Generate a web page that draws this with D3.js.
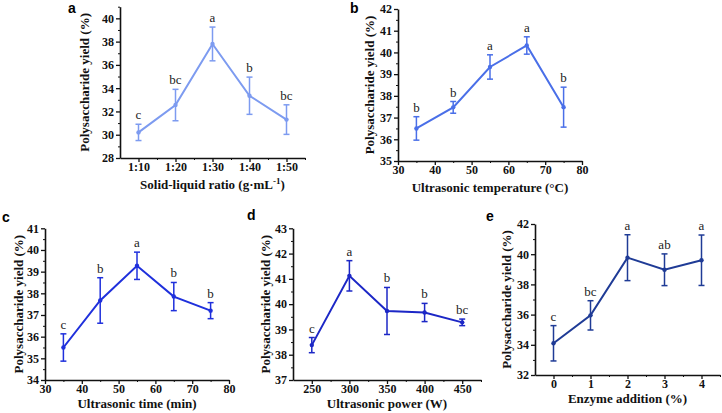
<!DOCTYPE html>
<html><head><meta charset="utf-8">
<script src="https://cdn.jsdelivr.net/npm/d3@7"></script>
<style>
html,body{margin:0;padding:0;background:#fff;}
svg{display:block;}
</style></head>
<body>
<svg id="chart" width="722" height="413"></svg>
<script>
// ---- Data ----
const ratioCats = ["1:10", "1:20", "1:30", "1:40", "1:50"];
const ratioYield = [30.2, 32.55, 37.8, 33.35, 31.3];
const ratioErr = [0.7, 1.35, 1.45, 1.6, 1.27];
const ratioLetters = ["c", "bc", "a", "b", "bc"];

const tempX = [35, 45, 55, 65, 75];
const tempYield = [36.5, 37.47, 39.33, 40.32, 37.48];
const tempErr = [0.54, 0.27, 0.56, 0.4, 0.92];
const tempLetters = ["b", "b", "a", "a", "b"];

const timeX = [35, 45, 55, 65, 75];
const timeYield = [35.5, 37.67, 39.27, 37.85, 37.2];
const timeErr = [0.63, 1.05, 0.63, 0.65, 0.37];
const timeLetters = ["c", "b", "a", "b", "b"];

const powerX = [250, 300, 350, 400, 450];
const powerYield = [38.38, 41.12, 39.73, 39.67, 39.28];
const powerErr = [0.3, 0.6, 0.93, 0.36, 0.13];
const powerLetters = ["c", "a", "b", "b", "bc"];

const enzymeX = [0, 1, 2, 3, 4];
const enzymeYield = [34.1, 35.95, 39.77, 38.97, 39.6];
const enzymeErr = [1.17, 0.97, 1.52, 1.05, 1.67];
const enzymeLetters = ["c", "bc", "a", "ab", "a"];

const yTitle = "Polysaccharide yield (%)";

const svg = d3.select("#chart");
const serif = '"Liberation Serif", "Times New Roman", serif';
const sans = '"Liberation Sans", Arial, sans-serif';

function panel(cfg) {
  const g = svg.append("g");
  const x = d3.scaleLinear().domain(cfg.xDomain).range([cfg.left, cfg.right]);
  const y = d3.scaleLinear().domain(cfg.yDomain).range([cfg.bottom, cfg.top]);

  // minor ticks
  g.append("g").attr("transform", `translate(0,${cfg.bottom})`)
    .call(d3.axisBottom(x).tickValues(cfg.xMinor).tickSize(2).tickSizeOuter(0).tickFormat(""))
    .call(s => s.select(".domain").remove())
    .call(s => s.selectAll("text").remove())
    .selectAll("line").attr("stroke", "#111").attr("stroke-width", 1);
  g.append("g").attr("transform", `translate(${cfg.left},0)`)
    .call(d3.axisLeft(y).tickValues(cfg.yMinor).tickSize(2).tickSizeOuter(0).tickFormat(""))
    .call(s => s.select(".domain").remove())
    .call(s => s.selectAll("text").remove())
    .selectAll("line").attr("stroke", "#111").attr("stroke-width", 1);

  // major axes
  const xa = g.append("g").attr("transform", `translate(0,${cfg.bottom})`)
    .call(d3.axisBottom(x).tickValues(cfg.xTicks).tickSize(4).tickSizeOuter(0).tickPadding(0)
      .tickFormat(cfg.xFormat || d3.format("d")));
  const ya = g.append("g").attr("transform", `translate(${cfg.left},0)`)
    .call(d3.axisLeft(y).tickValues(cfg.yTicks).tickSize(4).tickSizeOuter(0).tickPadding(2)
      .tickFormat(d3.format("d")));
  [xa, ya].forEach(a => {
    a.attr("font-family", null).attr("font-size", null);
    a.select(".domain").attr("stroke", "#111").attr("stroke-width", 1.6);
    a.selectAll(".tick line").attr("stroke", "#111").attr("stroke-width", 1.3);
    a.selectAll(".tick text")
      .style("font-family", serif).style("font-weight", "bold").style("font-size", "12px")
      .attr("fill", "#111");
  });

  const pts = cfg.xs.map((xv, i) => ({x: xv, y: cfg.ys[i], e: cfg.errs[i], l: cfg.letters[i]}));

  // line
  g.append("path").datum(pts)
    .attr("fill", "none").attr("stroke", cfg.color).attr("stroke-width", 2)
    .attr("d", d3.line().x(d => x(d.x)).y(d => y(d.y)));

  // error bars
  const eb = g.selectAll(".eb").data(pts).enter().append("g")
    .attr("stroke", cfg.color).attr("stroke-width", 1.5);
  eb.append("line").attr("x1", d => x(d.x)).attr("x2", d => x(d.x))
    .attr("y1", d => y(d.y - d.e)).attr("y2", d => y(d.y + d.e));
  eb.append("line").attr("x1", d => x(d.x) - 3).attr("x2", d => x(d.x) + 3)
    .attr("y1", d => y(d.y + d.e)).attr("y2", d => y(d.y + d.e));
  eb.append("line").attr("x1", d => x(d.x) - 3).attr("x2", d => x(d.x) + 3)
    .attr("y1", d => y(d.y - d.e)).attr("y2", d => y(d.y - d.e));

  // points
  g.selectAll(".pt").data(pts).enter().append("circle")
    .attr("cx", d => x(d.x)).attr("cy", d => y(d.y)).attr("r", 2.2).attr("fill", cfg.color);

  // letters
  g.selectAll(".lt").data(pts).enter().append("text")
    .attr("x", d => x(d.x)).attr("y", d => y(d.y + d.e) - 5)
    .attr("text-anchor", "middle").style("font-family", serif).style("font-size", "13px")
    .attr("fill", "#222").text(d => d.l);

  // y title
  const cy = (cfg.top + cfg.bottom) / 2;
  g.append("text").attr("transform", `translate(${cfg.yTitleX},${cy}) rotate(-90)`)
    .attr("text-anchor", "middle").attr("dy", "0.35em")
    .style("font-family", serif).style("font-weight", "bold").style("font-size", "13px")
    .attr("fill", "#111").text(yTitle);

  // x title
  const xt = g.append("text").attr("x", (cfg.left + cfg.right) / 2).attr("y", cfg.xTitleY)
    .attr("text-anchor", "middle").style("font-family", serif).style("font-weight", "bold")
    .style("font-size", "13px").attr("fill", "#111");
  if (cfg.xTitleSup) {
    xt.append("tspan").text(cfg.xTitle);
    xt.append("tspan").attr("dy", -5).style("font-size", "9px").text(cfg.xTitleSup);
    xt.append("tspan").attr("dy", 5).text(")");
  } else {
    xt.text(cfg.xTitle);
  }

  // panel label
  g.append("text").attr("x", cfg.labX).attr("y", cfg.labY)
    .style("font-family", sans).style("font-weight", "bold").style("font-size", "14px")
    .attr("fill", "#000").text(cfg.label);
}

panel({
  label: "a", labX: 68, labY: 13,
  left: 120, right: 305, top: 6.7, bottom: 158,
  xDomain: [0.5, 5.5], yDomain: [28, 41],
  xTicks: [1, 2, 3, 4, 5], xMinor: [1.5, 2.5, 3.5, 4.5, 5.5],
  xFormat: d => ratioCats[d - 1],
  yTicks: [28, 30, 32, 34, 36, 38, 40], yMinor: [29, 31, 33, 35, 37, 39, 41],
  xs: ratioCats.map((c, i) => i + 1), ys: ratioYield, errs: ratioErr, letters: ratioLetters,
  color: "#7d9bf0", yTitleX: 84, xTitleY: 189,
  xTitle: "Solid-liquid ratio (g·mL", xTitleSup: "-1"
});

panel({
  label: "b", labX: 350, labY: 13,
  left: 398, right: 582, top: 9, bottom: 161,
  xDomain: [30, 80], yDomain: [35, 42],
  xTicks: [30, 40, 50, 60, 70, 80], xMinor: [35, 45, 55, 65, 75],
  yTicks: [35, 36, 37, 38, 39, 40, 41, 42], yMinor: [35.5, 36.5, 37.5, 38.5, 39.5, 40.5, 41.5],
  xs: tempX, ys: tempYield, errs: tempErr, letters: tempLetters,
  color: "#4a6fe8", yTitleX: 369, xTitleY: 192,
  xTitle: "Ultrasonic temperature (°C)"
});

panel({
  label: "c", labX: 2, labY: 222,
  left: 45, right: 229, top: 228.3, bottom: 380,
  xDomain: [30, 80], yDomain: [34, 41],
  xTicks: [30, 40, 50, 60, 70, 80], xMinor: [35, 45, 55, 65, 75],
  yTicks: [34, 35, 36, 37, 38, 39, 40, 41], yMinor: [34.5, 35.5, 36.5, 37.5, 38.5, 39.5, 40.5],
  xs: timeX, ys: timeYield, errs: timeErr, letters: timeLetters,
  color: "#1f30dc", yTitleX: 18, xTitleY: 408,
  xTitle: "Ultrasonic time (min)"
});

panel({
  label: "d", labX: 247, labY: 220,
  left: 293, right: 481, top: 228.3, bottom: 380,
  xDomain: [225, 475], yDomain: [37, 43],
  xTicks: [250, 300, 350, 400, 450], xMinor: [275, 325, 375, 425, 475],
  yTicks: [37, 38, 39, 40, 41, 42, 43], yMinor: [37.5, 38.5, 39.5, 40.5, 41.5, 42.5],
  xs: powerX, ys: powerYield, errs: powerErr, letters: powerLetters,
  color: "#1c27c6", yTitleX: 265, xTitleY: 408,
  xTitle: "Ultrasonic power (W)"
});

panel({
  label: "e", labX: 486, labY: 221,
  left: 535, right: 720, top: 224, bottom: 375,
  xDomain: [-0.5, 4.5], yDomain: [32, 42],
  xTicks: [0, 1, 2, 3, 4], xMinor: [0.5, 1.5, 2.5, 3.5, 4.5],
  yTicks: [32, 34, 36, 38, 40, 42], yMinor: [33, 35, 37, 39, 41],
  xs: enzymeX, ys: enzymeYield, errs: enzymeErr, letters: enzymeLetters,
  color: "#1f3b96", yTitleX: 506, xTitleY: 403,
  xTitle: "Enzyme addition (%)"
});
</script>
</body></html>
